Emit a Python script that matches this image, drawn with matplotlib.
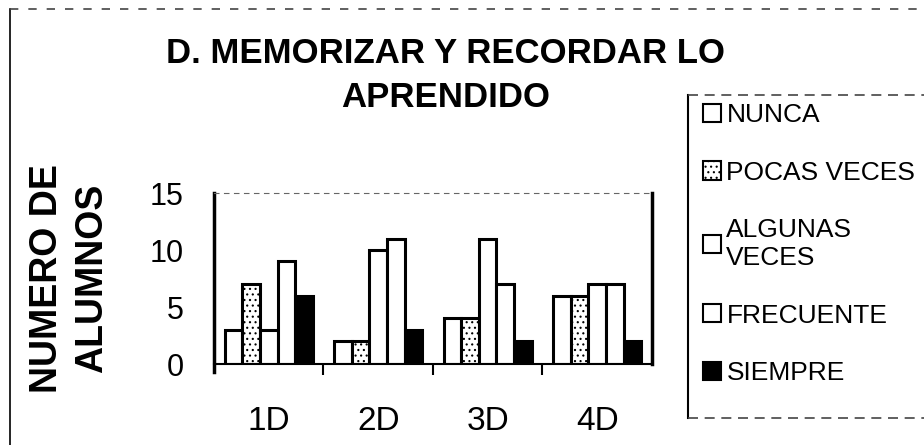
import numpy as np
import matplotlib.pyplot as plt
from matplotlib.lines import Line2D

grupos = ['1D', '2D', '3D', '4D']
series = ['NUNCA', 'POCAS VECES', 'ALGUNAS\nVECES', 'FRECUENTE', 'SIEMPRE']
nunca = [3, 2, 4, 6]
pocas = [7, 2, 4, 6]
algunas = [3, 10, 11, 7]
frecuente = [9, 11, 7, 7]
siempre = [6, 3, 2, 2]
valores = [nunca, pocas, algunas, frecuente, siempre]

colores = ['white', 'white', 'white', 'white', 'black']
tramas = [None, '...', None, None, None]

plt.rcParams['font.family'] = ['Liberation Sans', 'DejaVu Sans']
plt.rcParams['hatch.linewidth'] = 0.8

fig = plt.figure(figsize=(9.24, 4.45), dpi=100)
ax = fig.add_axes([0.2316, 0.182, 0.474, 0.384])

x = np.arange(len(grupos))
w = 0.16
for i, (vals, name) in enumerate(zip(valores, series)):
    ax.bar(x + (i - 2) * w, vals, w, color=colores[i], edgecolor='black',
           hatch=tramas[i], linewidth=2.2, label=name)

ax.set_ylim(0, 15)
ax.set_xlim(-0.5, 3.5)
ax.set_yticks([0, 5, 10, 15])
ax.set_xticks(x)
ax.set_xticklabels(grupos, fontsize=24)
ax.tick_params(axis='y', labelsize=22, length=0, pad=22)
ax.tick_params(axis='x', length=0, pad=30)
# separadores entre grupos
ax.set_xticks(x[:-1] + 0.5, minor=True)
ax.tick_params(axis='x', which='minor', length=8, width=1.5, direction='out')

ax.spines['left'].set_linewidth(2.5)
ax.spines['left'].set_bounds(-0.7, 15)
ax.spines['bottom'].set_linewidth(1.5)
ax.spines['top'].set_linestyle((0, (4, 5)))
ax.spines['top'].set_color('#666666')
ax.spines['right'].set_linewidth(2.5)

ax.set_ylabel('NUMERO DE\nALUMNOS', fontsize=27, fontweight='bold',
              linespacing=1.3)
ax.yaxis.set_label_coords(-0.238, 0.5)

fig.text(0.482, 0.88, 'D. MEMORIZAR Y RECORDAR LO', ha='center', va='center',
         fontsize=25, fontweight='bold')
fig.text(0.482, 0.78, 'APRENDIDO', ha='center', va='center',
         fontsize=25, fontweight='bold')

leg = fig.legend(loc='upper left', bbox_to_anchor=(0.761, 0.768),
                 frameon=False, labelspacing=1.27,
                 handlelength=0.68, handleheight=0.68,
                 handletextpad=0.2, borderpad=0, borderaxespad=0,
                 prop={'size': 19})
for h in leg.legend_handles:
    h.set_linewidth(1.5)

# recuadro de la leyenda
fig.add_artist(Line2D([0.7446, 0.7446], [0.061, 0.786], color='black', lw=1.5))
fig.add_artist(Line2D([0.7446, 1.0], [0.786, 0.786], color='#444444', lw=1.2,
                      linestyle=(0, (6, 4))))
fig.add_artist(Line2D([0.7446, 1.0], [0.061, 0.061], color='#444444', lw=1.2,
                      linestyle=(0, (6, 4))))

# marco exterior del grafico
fig.add_artist(Line2D([0.011, 0.011], [0.0, 0.98], color='black', lw=1.2))
fig.add_artist(Line2D([0.011, 1.0], [0.98, 0.98], color='#444444', lw=1.2,
                      linestyle=(0, (5, 6))))

fig.savefig('out.png', dpi=100)
